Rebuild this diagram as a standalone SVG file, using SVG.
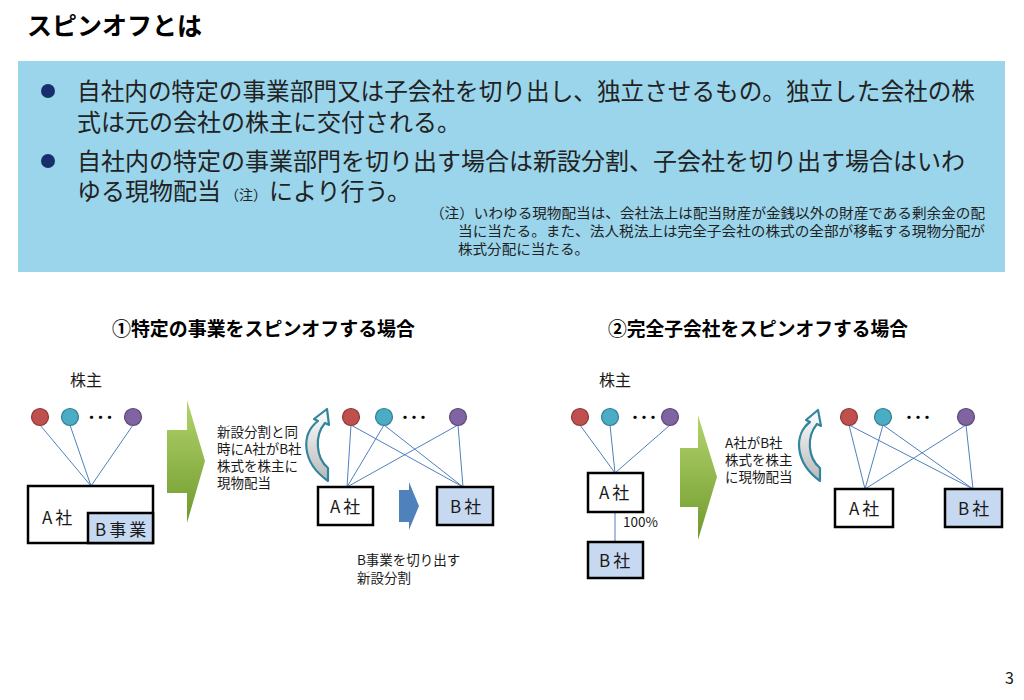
<svg xmlns="http://www.w3.org/2000/svg" width="1024" height="700" viewBox="0 0 1024 700">
<defs>
<style>
.jp{font-family:"Noto Sans CJK JP","Noto Sans",sans-serif;fill:#1a1a1a}
.title{font-size:25px;font-weight:bold;fill:#000}
.bul{font-size:24px;fill:#222}
.note{font-size:14px;fill:#222}
.h{font-size:19px;font-weight:bold;fill:#000}
.lbl{font-size:16px}
.sm{font-size:13.5px}
.box{fill:#fff;stroke:#000;stroke-width:2.5}
.bbox{fill:#c6d9f1;stroke:#000;stroke-width:2.5}
.bt{font-size:17px;letter-spacing:3px}
.ln{stroke:#4f81bd;stroke-width:1;fill:none}
.r{fill:#c0504d;stroke:#8c3a38;stroke-width:1.2}
.c{fill:#4bacc6;stroke:#357d91;stroke-width:1.2}
.p{fill:#8064a2;stroke:#5c4876;stroke-width:1.2}
.dots{font-size:13px;font-weight:bold;letter-spacing:-4px;fill:#000}
.garrow{fill:url(#gg)}
.curv{fill:url(#cg);stroke:#31859c;stroke-width:2.2;stroke-linejoin:round}
</style>
<linearGradient id="gg" x1="0" y1="0" x2="0" y2="1">
<stop offset="0" stop-color="#b3d46c"/>
<stop offset="1" stop-color="#6f9a2d"/>
</linearGradient>
<linearGradient id="cg" x1="0" y1="0" x2="0" y2="1">
<stop offset="0" stop-color="#ffffff"/>
<stop offset="1" stop-color="#b8b8b8"/>
</linearGradient>
</defs>
<rect width="1024" height="700" fill="#fff"/>

<g id="title"><text class="jp title" x="27" y="35">スピンオフとは</text></g>

<g id="summary">
<rect x="18" y="61" width="987" height="211" fill="#9bd5eb"/>
<circle cx="48" cy="91" r="7" fill="#17306b"/>
<circle cx="48" cy="161" r="7" fill="#17306b"/>
<text class="jp bul" x="77" y="100" textLength="898" lengthAdjust="spacingAndGlyphs">自社内の特定の事業部門又は子会社を切り出し、独立させるもの。独立した会社の株</text>
<text class="jp bul" x="77" y="131">式は元の会社の株主に交付される。</text>
<text class="jp bul" x="77" y="170">自社内の特定の事業部門を切り出す場合は新設分割、子会社を切り出す場合はいわ</text>
<text class="jp bul" x="77" y="200">ゆる現物配当<tspan font-size="14" dx="4">（注）</tspan><tspan dx="2">により行う。</tspan></text>
<text class="jp note" x="430" y="218" textLength="555" lengthAdjust="spacingAndGlyphs">（注）いわゆる現物配当は、会社法上は配当財産が金銭以外の財産である剰余金の配</text>
<text class="jp note" x="458" y="236" textLength="527" lengthAdjust="spacingAndGlyphs">当に当たる。また、法人税法上は完全子会社の株式の全部が移転する現物分配が</text>
<text class="jp note" x="458" y="254" textLength="131" lengthAdjust="spacingAndGlyphs">株式分配に当たる。</text>
</g>

<g id="heading1"><text class="jp h" x="112" y="336" textLength="303" lengthAdjust="spacingAndGlyphs">①特定の事業をスピンオフする場合</text></g>
<g id="heading2"><text class="jp h" x="608" y="336" textLength="300" lengthAdjust="spacingAndGlyphs">②完全子会社をスピンオフする場合</text></g>

<g id="connectors">
<line class="ln" x1="40" y1="425" x2="91" y2="486"/>
<line class="ln" x1="70" y1="425" x2="91" y2="486"/>
<line class="ln" x1="133" y1="425" x2="91" y2="486"/>
<line class="ln" x1="351" y1="425" x2="347" y2="487"/>
<line class="ln" x1="351" y1="425" x2="463" y2="487"/>
<line class="ln" x1="384" y1="425" x2="347" y2="487"/>
<line class="ln" x1="384" y1="425" x2="463" y2="487"/>
<line class="ln" x1="458" y1="425" x2="347" y2="487"/>
<line class="ln" x1="458" y1="425" x2="463" y2="487"/>
<line class="ln" x1="580" y1="425" x2="615" y2="473"/>
<line class="ln" x1="610" y1="425" x2="615" y2="473"/>
<line class="ln" x1="670" y1="425" x2="615" y2="473"/>
<line class="ln" x1="615" y1="512" x2="615" y2="542"/>
<line class="ln" x1="849" y1="425" x2="865" y2="489"/>
<line class="ln" x1="849" y1="425" x2="973" y2="489"/>
<line class="ln" x1="883" y1="425" x2="865" y2="489"/>
<line class="ln" x1="883" y1="425" x2="973" y2="489"/>
<line class="ln" x1="966" y1="425" x2="865" y2="489"/>
<line class="ln" x1="966" y1="425" x2="973" y2="489"/>
</g>

<g id="d1-shareholders">
<text class="jp lbl" x="70" y="386">株主</text>
<circle class="r" cx="40" cy="417" r="8.5"/>
<circle class="c" cx="70" cy="417" r="8.5"/>
<text class="jp dots" x="85" y="422">・・・</text>
<circle class="p" cx="133" cy="417" r="8.5"/>
</g>
<g id="d1-company-a">
<rect class="box" x="28" y="486" width="125" height="57"/>
<text class="jp bt" x="42" y="524">A社</text>
</g>
<g id="d1-business-b">
<rect class="bbox" x="88" y="513" width="65" height="30"/>
<text class="jp bt" x="95" y="536" letter-spacing="1">B事業</text>
</g>

<g id="d1-arrow">
<path class="garrow" d="M167,430 H187 V400 L205,461 L187,523 V493 H167 Z"/>
<text class="jp sm"><tspan x="217" y="437">新設分割と同</tspan><tspan x="217" y="454">時にA社がB社</tspan><tspan x="217" y="471">株式を株主に</tspan><tspan x="217" y="488">現物配当</tspan></text>
</g>

<g id="d1-curved">
<path class="curv" d="M328,481 C301,462 301,434 318,421 L314,419 L327,409 L329,425 L325,423 C314,436 316,458 328,468 Z"/>
</g>

<g id="d1-after-shareholders">
<circle class="r" cx="351" cy="417" r="8.5"/>
<circle class="c" cx="384" cy="417" r="8.5"/>
<text class="jp dots" x="398.5" y="422">・・・</text>
<circle class="p" cx="458" cy="417" r="8.5"/>
</g>
<g id="d1-a"><rect class="box" x="318" y="487" width="55" height="38"/><text class="jp bt" x="330" y="513">A社</text></g>
<g id="d1-b"><rect class="bbox" x="437" y="487" width="56" height="38"/><text class="jp bt" x="450" y="513">B社</text></g>
<g id="d1-split">
<path d="M399,490 H409 V482 L419,506 L409,530 V522 H399 Z" fill="#4f81bd"/>
<text class="jp sm"><tspan x="357" y="565">B事業を切り出す</tspan><tspan x="357" y="583">新設分割</tspan></text>
</g>

<g id="d2-shareholders">
<text class="jp lbl" x="599" y="386">株主</text>
<circle class="r" cx="580" cy="417" r="8.5"/>
<circle class="c" cx="610" cy="417" r="8.5"/>
<text class="jp dots" x="628.5" y="422">・・・</text>
<circle class="p" cx="670" cy="417" r="8.5"/>
</g>
<g id="d2-a"><rect class="box" x="588" y="473" width="55" height="39"/><text class="jp bt" x="599" y="499">A社</text></g>
<g id="d2-pct"><text class="jp sm" x="623" y="527">100%</text></g>
<g id="d2-b"><rect class="bbox" x="588" y="542" width="55" height="36"/><text class="jp bt" x="599" y="567">B社</text></g>

<g id="d2-arrow">
<path class="garrow" d="M680,448 H698 V415 L717,477 L698,540 V507 H680 Z"/>
<text class="jp sm"><tspan x="725" y="448">A社がB社</tspan><tspan x="725" y="465">株式を株主</tspan><tspan x="725" y="482">に現物配当</tspan></text>
</g>
<g id="d2-curved">
<path class="curv" d="M820,481 C794,462 794,434 810,422 L806,420 L818,410 L821,426 L817,424 C806,437 808,458 820,468 Z"/>
</g>
<g id="d2-after-shareholders">
<circle class="r" cx="849" cy="417" r="8.5"/>
<circle class="c" cx="883" cy="417" r="8.5"/>
<text class="jp dots" x="902.5" y="422">・・・</text>
<circle class="p" cx="966" cy="417" r="8.5"/>
</g>
<g id="d2-after-a"><rect class="box" x="835" y="489" width="58" height="38"/><text class="jp bt" x="849" y="515">A社</text></g>
<g id="d2-after-b"><rect class="bbox" x="945" y="489" width="57" height="38"/><text class="jp bt" x="958" y="515">B社</text></g>

<g id="page"><text class="jp" x="1005" y="684" font-size="16">3</text></g>
</svg>
